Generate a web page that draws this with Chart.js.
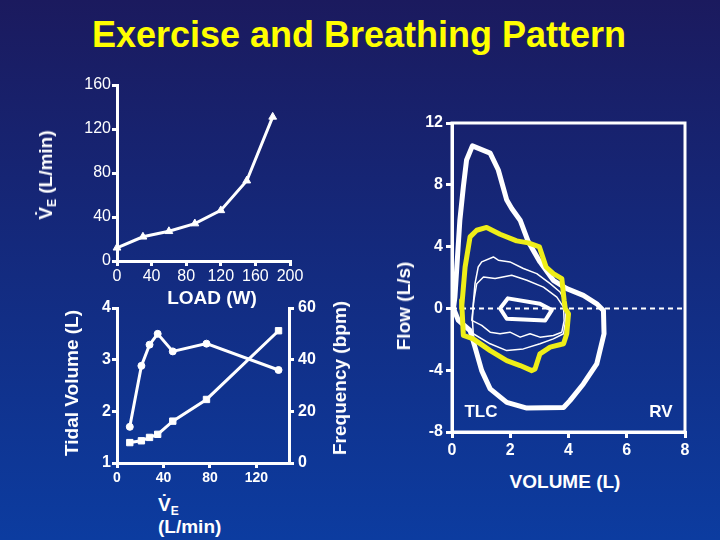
<!DOCTYPE html>
<html>
<head>
<meta charset="utf-8">
<script src="https://cdn.jsdelivr.net/npm/chart.js@4/dist/chart.umd.min.js"></script>
<style>
  html, body { margin: 0; padding: 0; }
  body {
    width: 720px; height: 540px; overflow: hidden; position: relative;
    background: linear-gradient(to bottom, #1b1a5e 0%, #14297c 45%, #0c3ca0 100%);
    font-family: "Liberation Sans", Arial, sans-serif; color: #fff;
  }
  canvas { position: absolute; }
  .title {
    position: absolute; left: 0; top: 17px; width: 718px; text-align: center;
    font-size: 36px; line-height: 36px; font-weight: bold; color: #ffff00;
  }
  .lbl {
    position: absolute; white-space: nowrap; font-weight: bold; font-size: 19px;
    transform: translate(-50%, -50%);
  }
  .rot { transform: translate(-50%, -50%) rotate(-90deg); }
  sub { font-size: 12px; line-height: 0; vertical-align: -4px; }
</style>
</head>
<body>
<div class="title">Exercise and Breathing Pattern</div>

<canvas id="loadChart" width="320" height="230" style="left:0;top:60px"></canvas>
<canvas id="patternChart" width="330" height="200" style="left:0;top:290px"></canvas>
<canvas id="loopChart" width="340" height="370" style="left:380px;top:100px"></canvas>

<div class="lbl rot" style="left:46px;top:175px">V&#775;<sub>E</sub> (L/min)</div>
<div class="lbl" style="left:212px;top:298px">LOAD (W)</div>
<div class="lbl rot" style="left:72px;top:383px">Tidal Volume (L)</div>
<div class="lbl rot" style="left:340px;top:378px">Frequency (bpm)</div>
<div style="position:absolute;left:158px;top:494px;font-weight:bold;font-size:19px;line-height:22px">V&#775;<sub>E</sub><br>(L/min)</div>
<div class="lbl rot" style="left:404px;top:306px">Flow (L/s)</div>
<div class="lbl" style="left:565px;top:482px">VOLUME (L)</div>
<div class="lbl" style="left:481px;top:412px;font-size:17px">TLC</div>
<div class="lbl" style="left:661px;top:412px;font-size:17px">RV</div>

<script>
// ventilation vs load
const loadW = [0, 30, 60, 90, 120, 150, 180];
const ventByLoad = [12, 22, 27, 34, 46, 73, 131];

// tidal volume and frequency vs ventilation
const ventRate = [11, 21, 28, 35, 48, 77, 139];
const tidalVol = [1.70, 2.88, 3.29, 3.50, 3.16, 3.31, 2.80];
const breathFreq = [7.9, 8.6, 9.9, 11.1, 16.2, 24.6, 51.2];

// flow-volume loops (volume L, flow L/s)
const maxLoopV = [0.05, 0.10, 0.27, 0.39, 0.50, 0.70, 1.31, 1.59, 1.88, 2.05, 2.34, 2.62, 3.02, 3.48, 3.94, 4.51, 4.97, 5.20, 5.22, 4.97, 4.51, 4.05, 3.83, 2.57, 1.88, 1.31, 1.02, 0.79, 0.62, 0.22, 0.05];
const maxLoopF = [0, 0.73, 5.71, 7.88, 9.61, 10.52, 10.05, 8.96, 7.01, 6.47, 5.71, 4.31, 3.01, 1.82, 1.28, 0.84, 0.30, -0.13, -1.64, -3.59, -4.89, -5.97, -6.41, -6.45, -6.08, -5.21, -4.03, -2.51, -1.43, -0.78, 0];

const peakLoopV = [0.33, 0.45, 0.62, 0.85, 1.19, 1.65, 2.22, 2.62, 3.00, 3.23, 3.48, 3.77, 3.85, 3.89, 4.00, 3.94, 3.83, 3.37, 3.02, 2.85, 2.74, 2.34, 1.88, 1.31, 0.73, 0.39, 0.33, 0.33];
const peakLoopF = [0, 2.68, 4.63, 5.06, 5.24, 4.80, 4.37, 4.24, 3.98, 2.68, 2.25, 1.93, 0.52, 0, -0.35, -1.64, -2.29, -2.51, -2.94, -3.92, -4.03, -3.70, -3.38, -2.73, -1.97, -1.75, 0.52, 0];

const heavyLoopV = [0.73, 0.79, 0.90, 1.02, 1.42, 1.59, 1.99, 2.45, 2.91, 3.37, 3.71, 3.92, 3.90, 3.83, 3.48, 3.02, 2.45, 1.88, 1.31, 0.73, 0.70, 0.73];
const heavyLoopF = [0.30, 1.60, 2.68, 3.01, 3.33, 3.12, 3.01, 2.58, 2.25, 1.60, 1.06, 0.30, -0.80, -1.64, -1.97, -2.29, -2.62, -2.73, -2.29, -1.64, -0.70, 0.30];

const moderateLoopV = [0.85, 1.08, 1.48, 2.05, 2.57, 3.14, 3.60, 3.83, 3.85, 3.77, 3.48, 3.02, 2.68, 2.34, 1.99, 1.65, 1.31, 1.02, 0.68, 0.75, 0.85];
const moderateLoopF = [1.60, 2.03, 1.93, 2.14, 1.82, 1.38, 0.73, 0.08, -0.80, -1.54, -1.75, -1.86, -1.64, -1.86, -1.54, -1.64, -1.54, -1.10, -0.78, 0.50, 1.60];

const restLoopV = [1.65, 1.92, 3.02, 3.43, 3.20, 1.88, 1.65];
const restLoopF = [0, 0.65, 0.30, -0.10, -0.78, -0.67, 0];

const zeroLineV = [0, 8];
const zeroLineF = [0, 0];

const white = '#ffffff';
const yellow = '#eeee18';

const pts = (xs, ys) => xs.map((x, i) => ({ x: x, y: ys[i] }));

function axis(extra) {
  return Object.assign({
    type: 'linear',
    grid: { drawOnChartArea: false, color: white, lineWidth: 3, tickLength: 5 },
    border: { color: white, width: 3 },
    ticks: { color: white, padding: 1, maxRotation: 0, font: { size: 16, weight: 'bold' } }
  }, extra);
}

const base = {
  responsive: false,
  animation: false,
  devicePixelRatio: 1,
  plugins: { legend: { display: false }, tooltip: { enabled: false } }
};

Chart.defaults.font.family = '"Liberation Sans", Arial, sans-serif';

// V'E vs load
new Chart(document.getElementById('loadChart'), {
  type: 'line',
  data: {
    datasets: [{
      data: pts(loadW, ventByLoad),
      borderColor: white, borderWidth: 3,
      pointStyle: 'triangle', pointRadius: 4.5, pointBorderWidth: 1,
      pointBackgroundColor: white, pointBorderColor: white,
      tension: 0, clip: false
    }]
  },
  options: Object.assign({}, base, {
    layout: { padding: { top: 25, right: 30, left: 0, bottom: 0 } },
    scales: {
      x: axis({
        min: 0, max: 200,
        ticks: { stepSize: 40, color: white, padding: 1, maxRotation: 0, font: { size: 16 } },
        afterFit: (s) => { s.height = 29; }
      }),
      y: axis({
        min: 0, max: 160,
        ticks: { stepSize: 40, color: white, padding: 1, font: { size: 16 } },
        afterFit: (s) => { s.width = 117; }
      })
    }
  })
});

// tidal volume and frequency
new Chart(document.getElementById('patternChart'), {
  type: 'line',
  data: {
    datasets: [
      {
        data: pts(ventRate, tidalVol), yAxisID: 'y',
        borderColor: white, borderWidth: 3,
        pointStyle: 'circle', pointRadius: 3.5, pointBorderWidth: 1,
        pointBackgroundColor: white, pointBorderColor: white,
        tension: 0, clip: false
      },
      {
        data: pts(ventRate, breathFreq), yAxisID: 'y1',
        borderColor: white, borderWidth: 3,
        pointStyle: 'rect', pointRadius: 4.5, pointBorderWidth: 1,
        pointBackgroundColor: white, pointBorderColor: white,
        tension: 0, clip: false
      }
    ]
  },
  options: Object.assign({}, base, {
    layout: { padding: { top: 18, right: 0, left: 0, bottom: 0 } },
    scales: {
      x: axis({
        min: 0, max: 148,
        ticks: { color: white, padding: 2, maxRotation: 0, font: { size: 14, weight: 'bold' } },
        afterBuildTicks: (s) => { s.ticks = [0, 40, 80, 120].map((v) => ({ value: v })); },
        afterFit: (s) => { s.height = 27; }
      }),
      y: axis({
        min: 1, max: 4,
        ticks: { stepSize: 1, color: white, padding: 1, font: { size: 16, weight: 'bold' } },
        afterFit: (s) => { s.width = 117; }
      }),
      y1: axis({
        position: 'right', min: 0, max: 60,
        ticks: { stepSize: 20, color: white, padding: 4, font: { size: 16, weight: 'bold' } },
        afterFit: (s) => { s.width = 41; }
      })
    }
  })
});

// box round the flow-volume plot
const framePlugin = {
  id: 'frame',
  afterDatasetsDraw(chart) {
    const { ctx, chartArea: a } = chart;
    ctx.save();
    ctx.strokeStyle = white;
    ctx.lineWidth = 3;
    ctx.strokeRect(a.left, a.top, a.right - a.left, a.bottom - a.top);
    ctx.restore();
  }
};

const loop = (v, f, color, width) => ({
  data: pts(v, f),
  borderColor: color, borderWidth: width,
  pointRadius: 0, tension: 0, fill: false,
  borderJoinStyle: 'round'
});

new Chart(document.getElementById('loopChart'), {
  type: 'line',
  data: {
    datasets: [
      loop(restLoopV, restLoopF, white, 4),
      loop(peakLoopV, peakLoopF, yellow, 5),
      loop(maxLoopV, maxLoopF, white, 5),
      loop(heavyLoopV, heavyLoopF, white, 1.5),
      loop(moderateLoopV, moderateLoopF, white, 1.5),
      Object.assign(loop(zeroLineV, zeroLineF, white, 2), { borderDash: [5, 4] })
    ]
  },
  options: Object.assign({}, base, {
    layout: { padding: { top: 23, right: 35, left: 0, bottom: 0 } },
    scales: {
      x: axis({
        min: 0, max: 8,
        grid: { drawOnChartArea: false, color: white, lineWidth: 3, tickLength: 6 },
        ticks: { stepSize: 2, color: white, padding: 3, maxRotation: 0, font: { size: 16, weight: 'bold' } },
        afterFit: (s) => { s.height = 38; }
      }),
      y: axis({
        min: -8, max: 12,
        grid: { drawOnChartArea: false, color: white, lineWidth: 3, tickLength: 6 },
        ticks: { stepSize: 4, color: white, padding: 3, font: { size: 16, weight: 'bold' } },
        afterFit: (s) => { s.width = 72; }
      })
    }
  }),
  plugins: [framePlugin]
});
</script>
</body>
</html>
